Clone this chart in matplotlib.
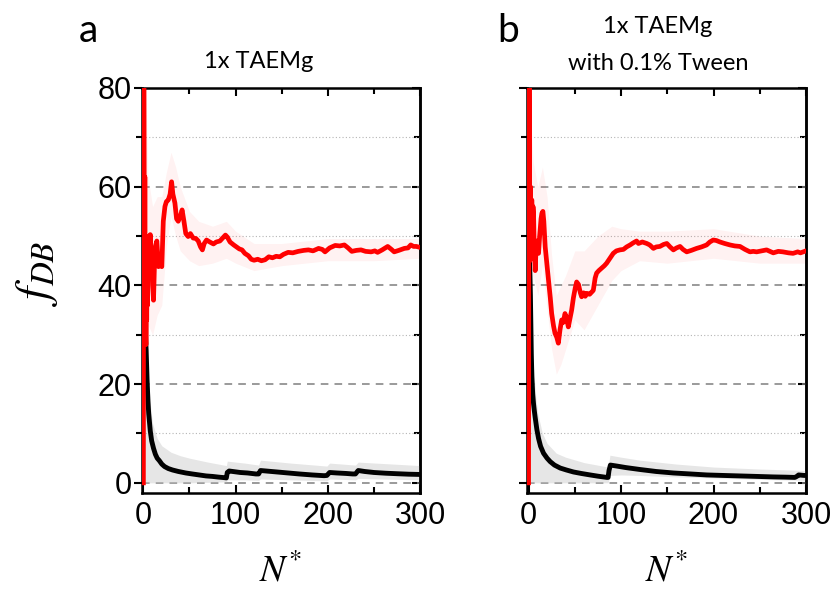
import matplotlib
matplotlib.use('Agg')
import matplotlib.pyplot as plt
from matplotlib.ticker import MultipleLocator

plt.rcParams['mathtext.fontset'] = 'stix'

# ---- panel a: 1x TAEMg ----
red_a_n = [0, 0.4, 0.8, 1.2, 1.6, 2.0, 2.4, 2.8, 3.2, 3.6, 4.0, 4.5, 5, 6, 7, 7.5, 8.5, 9.3, 10, 11,
           12, 12.8, 14.6, 16.4, 18, 20, 21.6, 23.4, 25, 27, 29, 30.6, 32, 34.2, 36, 37.8, 40, 42, 44, 46,
           48.6, 51, 54, 57, 59.5, 62, 64, 66, 68.5, 72, 76, 79, 83, 86, 89, 91, 94, 98, 101, 104,
           107, 110, 114, 117, 120, 124, 128, 132, 136, 140, 144, 148, 152, 157, 162, 168, 174, 179, 184, 190,
           194, 197, 202, 208, 213, 218, 222, 226, 231, 236, 241, 247, 251, 254, 259, 265, 269, 272, 277, 283,
           287, 290, 293, 296, 300]
red_a = [0, 95, 70, 35, 62, 30, 50, 28, 45, 33, 42, 36, 46, 50, 48, 50.3, 44, 46.5, 40, 37,
         44, 47.8, 49, 43.8, 45, 43.8, 53, 56, 57, 57.3, 58.5, 61, 58.5, 56.7, 53.5, 53, 54, 55.3, 53, 50.5,
         49.9, 50.5, 49.6, 49.5, 49, 47.8, 47.2, 48.5, 49.2, 48.8, 48.4, 48.8, 49, 49.6, 50.2, 49.8, 48.8, 48.2, 47.8, 47.4,
         47.2, 46.5, 46, 45.3, 45.1, 45.3, 45, 45.2, 45.8, 45.6, 45.9, 45.8, 46.3, 46.7, 46.6, 46.9, 47.1, 47.2, 47.0, 47.5,
         47.3, 46.8, 47.6, 48.1, 48.0, 48.2, 47.6, 46.9, 47.1, 47.2, 46.9, 46.8, 47.0, 46.7, 47.2, 47.9, 47.3, 46.8, 47.1, 47.5,
         47.6, 48.2, 47.9, 47.9, 47.7]

red_a_band_n = [2, 5, 10, 15, 20, 25, 30, 35, 40, 50, 60, 75, 90, 100, 120, 150, 200, 250, 300]
red_a_hi = [85, 62, 56, 58, 58, 63, 67, 64, 60, 55, 53, 52, 53, 51, 48.5, 48.5, 49.5, 49.5, 49.5]
red_a_lo = [20, 32, 30, 34, 36, 48, 54, 50, 47, 45, 44, 44.5, 45.5, 44.5, 43, 44, 45, 45, 45.5]

blk_a_n = [1, 1.5, 2, 2.5, 3, 4, 5, 5.8, 7.5, 9, 11, 13, 15, 17.3, 20, 23, 27, 31.7, 38, 46,
           53, 60.5, 68, 75, 82, 88, 90, 91, 93, 97, 105, 113, 122, 125, 127, 133, 145, 157, 169, 183,
           196, 199, 202, 210, 220, 227, 230, 233, 240, 250, 263, 275, 288, 300]
blk_a = [45, 38, 32, 29, 27, 21, 16.5, 14, 10.5, 8.5, 7, 5.8, 5, 4.5, 3.8, 3.3, 2.9, 2.6, 2.3, 2.0,
         1.8, 1.6, 1.4, 1.3, 1.15, 1.05, 1.0, 2.1, 2.4, 2.3, 2.1, 2.0, 1.8, 1.8, 2.5, 2.4, 2.2, 2.0, 1.8, 1.6,
         1.45, 1.5, 2.1, 2.0, 1.9, 1.8, 1.8, 2.5, 2.3, 2.1, 1.95, 1.85, 1.75, 1.7]

blk_a_band_n = [1, 3, 5, 8, 10, 15, 20, 30, 40, 50, 70, 90, 91, 110, 125, 127, 160, 199, 202, 230, 233, 300]
blk_a_hi = [55, 32, 22, 15, 12, 9, 7.5, 6.2, 5.5, 5, 4.2, 3.5, 4.4, 4, 3.6, 4.6, 4, 3.4, 4, 3.6, 4.2, 3.5]
blk_a_lo = [0, 0, 0, 0, 0, 0, 0, 0, 0, 0, 0.1, 0.2, 0.6, 0.6, 0.5, 0.8, 0.6, 0.4, 0.8, 0.6, 0.9, 0.6]

# ---- panel b: 1x TAEMg with 0.1% Tween ----
red_b_n = [0, 0.5, 1, 1.5, 2, 2.5, 3, 3.6, 4.2, 4.8, 5.4, 6.2, 7.2, 8, 9, 10, 10.8, 12, 13.5, 14.4,
           15.5, 16.5, 18, 20, 21.6, 23.5, 25, 27, 28.6, 30.5, 32.2, 34, 35.8, 37.5, 39.4, 41, 43, 45, 46.6, 48.5,
           50.5, 52, 54, 56, 57.4, 59.5, 61.3, 63, 66, 68, 70, 72, 73.6, 76, 79, 82, 84.4, 88, 91.6, 95,
           98.8, 102.6, 106, 109.8, 113, 116.8, 118.8, 123, 127.8, 131, 135, 138, 142, 146, 149.5, 153, 156.6, 160, 163.8, 167,
           171, 176, 181.7, 187, 192.5, 196, 199.7, 203, 207, 212, 217.8, 223, 228.6, 234, 239.4, 243, 246.6, 252, 257.4, 261,
           264.6, 270, 275, 281, 286, 291, 294, 297, 300]
red_b = [0, 95, 70, 45, 60, 48, 57, 57.3, 52, 56, 54.6, 47, 43, 47, 49, 47, 46.5, 50, 53.5, 54.6,
         55, 53, 47.8, 44, 41, 37.5, 34.3, 31.8, 30.3, 29.5, 28.3, 31, 33, 32.5, 34.3, 33.5, 31.6, 33.5, 35, 37.5,
         39.5, 40.7, 40.2, 38.5, 37.7, 38.5, 37.8, 38.4, 38.2, 38.6, 39, 41.5, 42.5, 43, 43.5, 44, 44.5, 45.5, 46.5, 47,
         47.2, 47.3, 47.8, 48.2, 48.6, 49, 48.5, 48.8, 48.5, 48.2, 47.5, 47.8, 47.9, 48.3, 48.5, 47.8, 47.2, 47.6, 47.9, 47.3,
         46.8, 47.1, 47.5, 47.8, 48.2, 48.8, 49.2, 49.1, 48.8, 48.5, 48.2, 48.0, 47.9, 47.3, 46.8, 46.9, 46.8, 47.0, 47.2, 46.9,
         46.6, 46.9, 46.8, 46.6, 46.5, 46.8, 46.6, 46.8, 47.0]

red_b_band_n = [2, 5, 10, 15, 20, 25, 30, 35, 40, 50, 60, 75, 90, 100, 120, 150, 200, 250, 300]
red_b_hi = [75, 65, 60, 64, 58, 46, 38, 40, 42, 47, 47, 50, 52, 51.5, 51, 51, 51.5, 50, 49.5]
red_b_lo = [30, 42, 38, 44, 35, 27, 22, 24, 27, 33, 31, 36, 41, 43, 45, 44.5, 45.5, 44.5, 44.5]

blk_b_n = [1, 1.5, 2, 2.5, 3, 3.6, 4.5, 5.4, 6.3, 7.2, 9, 10.8, 13, 16.2, 20, 23.4, 28, 34.2, 41, 48.6,
           57, 66.6, 75, 84.6, 86, 87, 88.5, 95.4, 105, 120.6, 138, 156.6, 175, 192.6, 210, 228.6, 247, 264.6, 278, 288,
           290, 292, 298, 300]
blk_b = [45, 42, 38, 32, 26, 21.5, 18, 16, 14.5, 13.2, 10.8, 9, 7.4, 6, 5, 4.3, 3.6, 3.0, 2.6, 2.2,
         1.9, 1.6, 1.35, 1.1, 1.1, 2.5, 3.6, 3.4, 3.1, 2.7, 2.3, 2.0, 1.8, 1.6, 1.5, 1.4, 1.3, 1.2, 1.15, 1.1,
         1.3, 1.6, 1.5, 1.5]

blk_b_band_n = [1, 3, 5, 8, 10, 15, 20, 30, 40, 60, 86, 88, 100, 120, 160, 200, 250, 300]
blk_b_hi = [55, 33, 24, 17, 14, 10, 8, 6, 5.2, 4.1, 3.2, 5.6, 5.2, 4.6, 3.8, 3.2, 2.8, 2.5]
blk_b_lo = [0, 0, 0, 0, 0, 0, 0, 0, 0, 0, 0, 1.5, 1.6, 1.5, 1.2, 1.0, 0.7, 0.5]

panels = [
    (red_a_n, red_a, red_a_band_n, red_a_hi, red_a_lo, blk_a_n, blk_a, blk_a_band_n, blk_a_hi, blk_a_lo),
    (red_b_n, red_b, red_b_band_n, red_b_hi, red_b_lo, blk_b_n, blk_b, blk_b_band_n, blk_b_hi, blk_b_lo),
]
x_ticks = [0, 100, 200, 300]
y_ticks = [0, 20, 40, 60, 80]

tick_font = ['Liberation Sans Narrow', 'Liberation Sans']
text_font = ['Lato', 'DejaVu Sans']

fig = plt.figure(figsize=(8.33, 5.91), dpi=100)
axes = [fig.add_axes([0.1699, 0.1663, 0.3343, 0.6848]),
        fig.add_axes([0.6323, 0.1663, 0.3353, 0.6848])]

for i, (ax, p) in enumerate(zip(axes, panels)):
    rn, rv, rbn, rhi, rlo, bn, bv, bbn, bhi, blo = p

    # spread bands first, then mean traces
    ax.fill_between(bbn, blo, bhi, color='#c8c8c8', alpha=0.45, lw=0, zorder=1)
    ax.fill_between(rbn, rlo, rhi, color='#ff0000', alpha=0.05, lw=0, zorder=1)
    ax.plot(bn, bv, color='black', lw=3.5, zorder=3)
    ax.plot(rn, rv, color='#ff0000', lw=3.4, zorder=4)

    ax.set_xlim(-2, 300)
    ax.set_ylim(-2, 80)
    ax.set_xticks(x_ticks)
    ax.set_yticks(y_ticks)
    ax.xaxis.set_minor_locator(MultipleLocator(50))
    ax.yaxis.set_minor_locator(MultipleLocator(10))

    # horizontal grid only: dashed at majors, dotted at minors
    ax.yaxis.grid(True, which='major', ls=(0, (5, 4)), color='#7f7f7f', lw=1.1, zorder=0)
    ax.yaxis.grid(True, which='minor', ls=(0, (1, 2)), color='#b5b5b5', lw=0.8, zorder=0)
    ax.set_axisbelow(True)

    for s in ax.spines.values():
        s.set_linewidth(1.8)

    ax.tick_params(axis='x', which='both', direction='in', top=True, width=1.5, pad=6)
    ax.tick_params(axis='x', which='major', length=6)
    ax.tick_params(axis='x', which='minor', length=4)
    ax.tick_params(axis='y', which='both', direction='out', right=False, width=1.5, pad=1)
    ax.tick_params(axis='y', which='major', length=6)
    ax.tick_params(axis='y', which='minor', length=4)
    if i == 1:
        ax.set_yticklabels([])

    for lab in ax.get_xticklabels() + ax.get_yticklabels():
        lab.set_family(tick_font)
        lab.set_fontsize(22)

    # right side ticks point inwards
    sec = ax.secondary_yaxis('right')
    sec.set_yticks(y_ticks)
    sec.yaxis.set_minor_locator(MultipleLocator(10))
    sec.tick_params(which='both', direction='in', labelright=False, width=1.5)
    sec.tick_params(which='major', length=6)
    sec.tick_params(which='minor', length=4)
    sec.spines['right'].set_linewidth(1.8)

    cx = (ax.get_position().x0 + ax.get_position().x1) / 2
    fig.text(cx, 0.016, r'$N^{*}$', ha='center', va='baseline', fontsize=27)

# titles and panel letters
fig.text(0.311, 0.885, '1x TAEMg', ha='center', va='baseline', fontsize=17, family=text_font)
fig.text(0.790, 0.944, '1x TAEMg', ha='center', va='baseline', fontsize=17, family=text_font)
fig.text(0.790, 0.8816, 'with 0.1% Tween', ha='center', va='baseline', fontsize=17, family=text_font)
fig.text(0.094, 0.929, 'a', ha='left', va='baseline', fontsize=28, family=text_font)
fig.text(0.597, 0.929, 'b', ha='left', va='baseline', fontsize=28, family=text_font)

fig.text(0.044, 0.538, r'$f_{DB}$', ha='center', va='center', rotation=90, fontsize=34)

fig.savefig('out.png', dpi=100)
plt.close(fig)
